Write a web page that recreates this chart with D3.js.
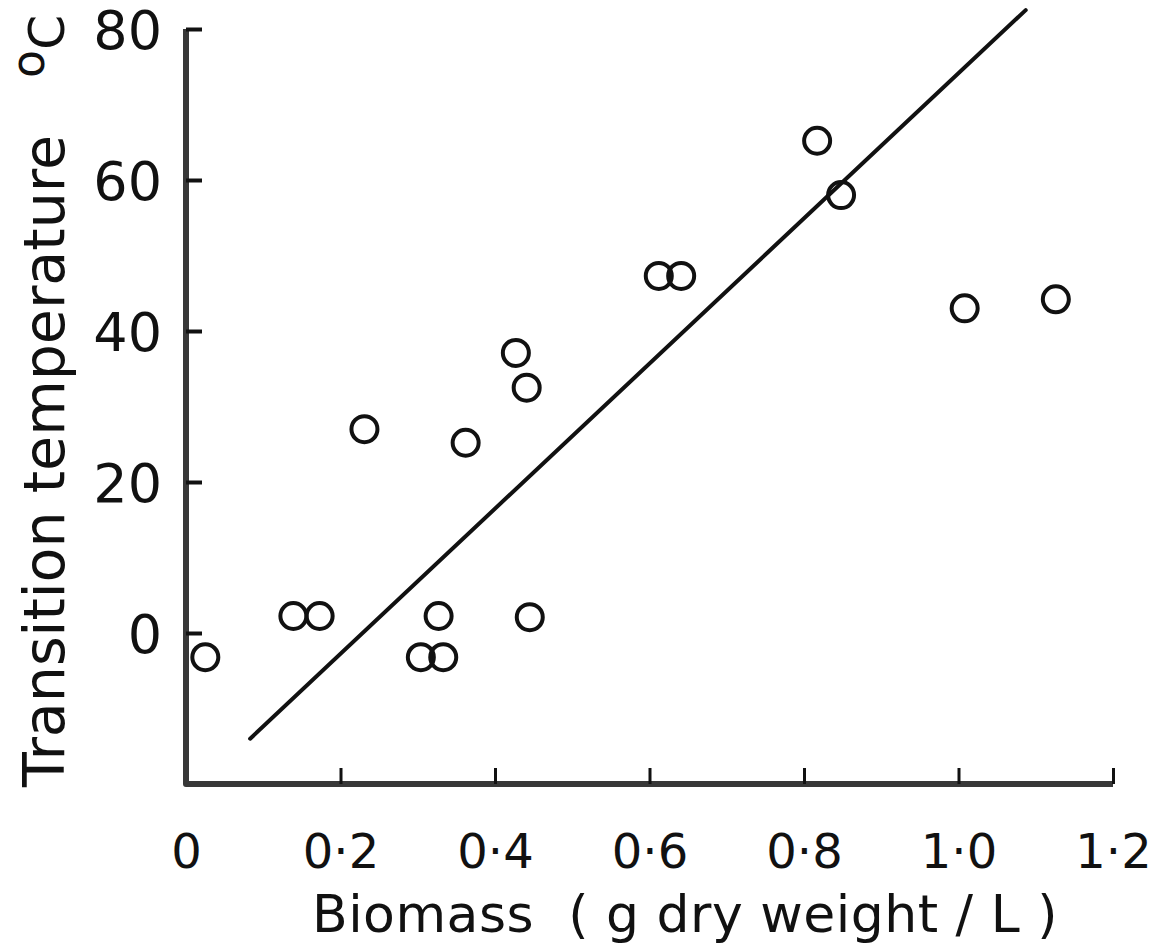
<!DOCTYPE html>
<html>
<head>
<meta charset="utf-8">
<script src="https://cdn.jsdelivr.net/npm/d3@7/dist/d3.min.js"></script>
<style>
  html, body { margin: 0; padding: 0; background: #fff; }
  svg { display: block; }
  text { font-family: "DejaVu Sans", sans-serif; fill: #111; }
</style>
</head>
<body>
<svg id="chart" width="1165" height="946"></svg>
<script>
// Biomass (g dry weight / L) against transition temperature (°C)
const biomass = [0.025, 0.139, 0.173, 0.231, 0.304, 0.333, 0.327, 0.362, 0.427, 0.441, 0.445, 0.612, 0.641, 0.817, 0.848, 1.008, 1.126];
const temperature = [-3.2, 2.25, 2.25, 27.0, -3.2, -3.2, 2.25, 25.2, 37.1, 32.5, 2.1, 47.3, 47.3, 65.2, 58.0, 43.0, 44.2];

// fitted regression line (end points)
const fitX = [0.083, 1.087];
const fitY = [-14.0, 82.5];

const xTicks = [0, 0.2, 0.4, 0.6, 0.8, 1.0, 1.2];
const yTicks = [0, 20, 40, 60, 80];

const svg = d3.select("#chart");
const ink = "#111";
const axisInk = "#383838";

const x = d3.scaleLinear().domain([0, 1.2]).range([186, 1113]);
const y = d3.scaleLinear().domain([-20, 80]).range([784, 29]);

// axes frame: left and bottom lines
svg.append("path")
  .attr("d", d3.line()([[x(0), y(80)], [x(0), y(-20)], [x(1.2), y(-20)]]))
  .attr("fill", "none")
  .attr("stroke", axisInk)
  .attr("stroke-width", 6)
  .attr("stroke-linejoin", "round");

// y axis: inward ticks, labels on the left
const yAxis = svg.append("g")
  .attr("transform", `translate(${x(0)},0)`)
  .call(d3.axisLeft(y).tickValues(yTicks).tickSizeInner(-16).tickSizeOuter(0).tickPadding(24)
    .tickFormat(d => String(d)));
yAxis.select(".domain").remove();
yAxis.selectAll(".tick line").attr("stroke", ink).attr("stroke-width", 4);
yAxis.selectAll(".tick text")
  .attr("font-size", 54)
  .attr("font-family", "DejaVu Sans, sans-serif")
  .attr("fill", ink)
  .attr("dy", "0.36em");

// x axis: inward ticks, labels below
const fmt = d => d === 0 ? "0" : d.toFixed(1).replace(".", "\u00B7");
const xAxis = svg.append("g")
  .attr("transform", `translate(0,${y(-20)})`)
  .call(d3.axisBottom(x).tickValues(xTicks).tickSizeInner(-16).tickSizeOuter(0).tickPadding(50)
    .tickFormat(fmt));
xAxis.select(".domain").remove();
xAxis.selectAll(".tick line").attr("stroke", ink).attr("stroke-width", 3)
  .attr("display", d => d === 0 ? "none" : null);
xAxis.selectAll(".tick text")
  .attr("font-size", 48)
  .attr("font-family", "DejaVu Sans, sans-serif")
  .attr("fill", ink);

// regression line
svg.append("path")
  .attr("d", d3.line()(fitX.map((v, i) => [x(v), y(fitY[i])])))
  .attr("fill", "none")
  .attr("stroke", ink)
  .attr("stroke-width", 4)
  .attr("stroke-linecap", "round");

// observations as open circles
svg.append("g").selectAll("circle")
  .data(biomass.map((b, i) => ({ b, t: temperature[i] })))
  .join("circle")
  .attr("cx", d => x(d.b))
  .attr("cy", d => y(d.t))
  .attr("r", 13)
  .attr("fill", "none")
  .attr("stroke", ink)
  .attr("stroke-width", 4);

// axis titles
svg.append("text")
  .attr("x", 312)
  .attr("y", 932)
  .attr("font-size", 52)
  .attr("letter-spacing", 0.5)
  .attr("xml:space", "preserve")
  .style("white-space", "pre")
  .text("Biomass  ( g dry weight / L )");

svg.append("text")
  .attr("transform", "translate(64,461) rotate(-90)")
  .attr("text-anchor", "middle")
  .attr("font-size", 57)
  .text("Transition temperature");

// unit label: raised "o" followed by "C"
const unit = svg.append("text")
  .attr("transform", "translate(64,78) rotate(-90)")
  .attr("font-size", 50);
unit.append("tspan").attr("font-size", 46).attr("dy", -20).text("o");
unit.append("tspan").attr("dy", 20).text("C");
</script>
</body>
</html>
